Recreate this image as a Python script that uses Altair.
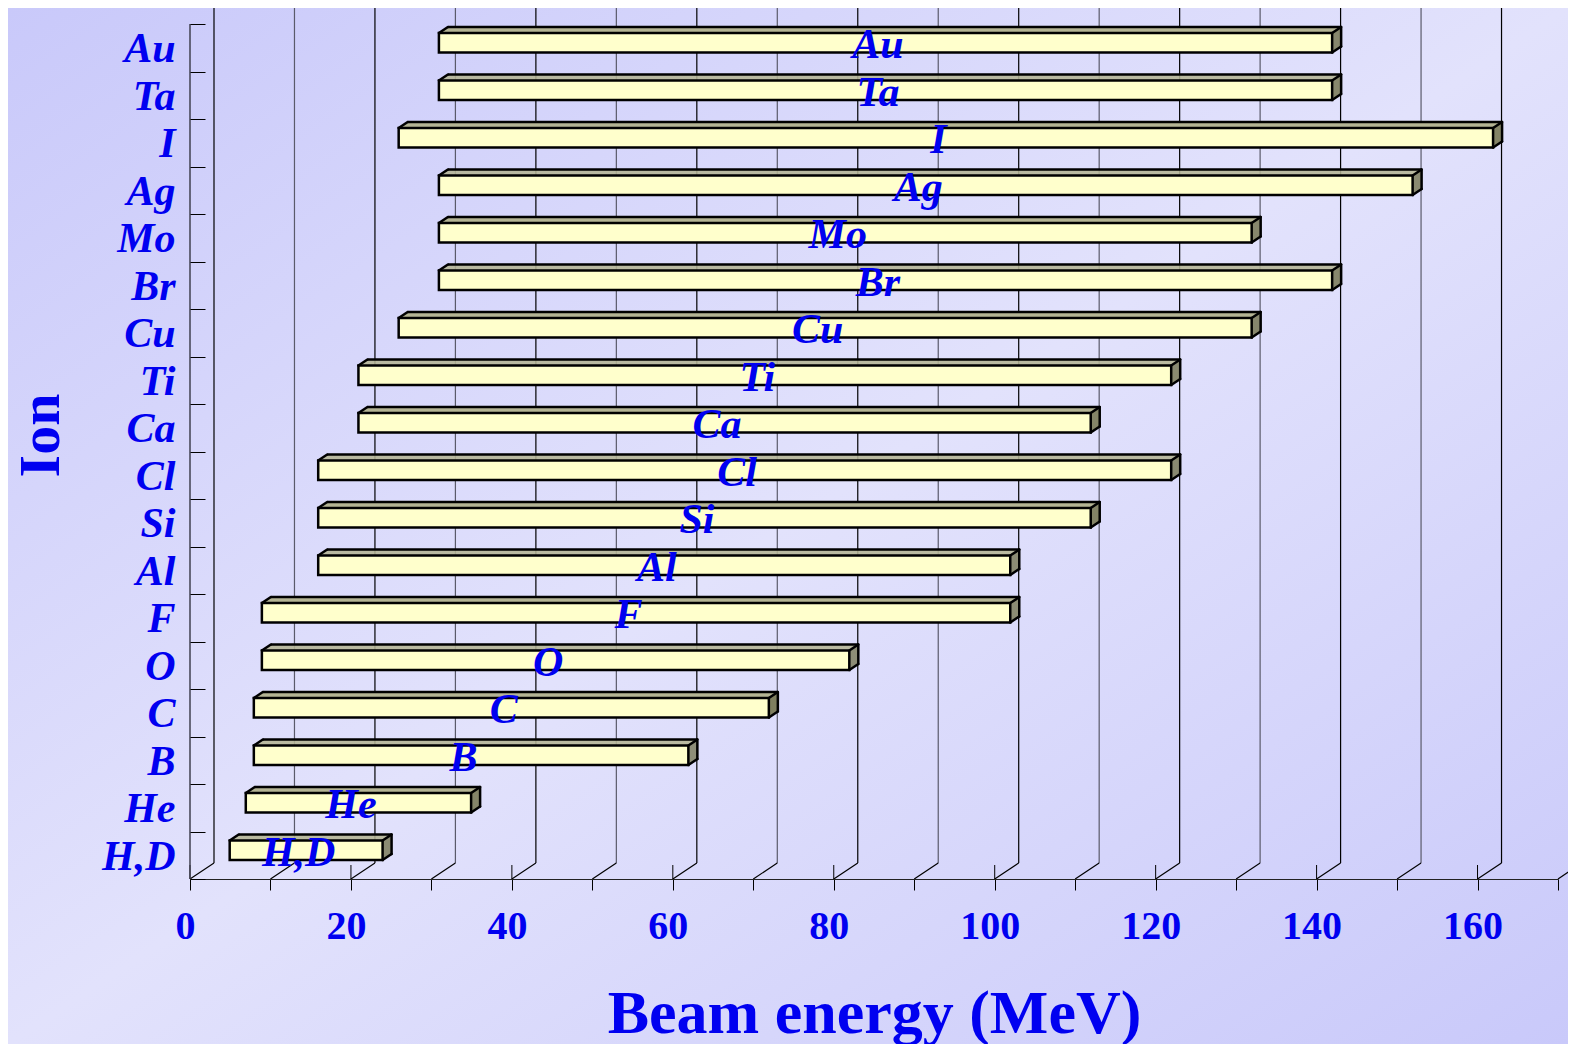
import altair as alt
import pandas as pd

# ---- data ----
ions = ["Au", "Ta", "I", "Ag", "Mo", "Br", "Cu", "Ti", "Ca", "Cl",
        "Si", "Al", "F", "O", "C", "B", "He", "H,D"]
e_min = [30, 30, 25, 30, 30, 30, 25, 20, 20, 15, 15, 15, 8, 8, 7, 7, 6, 4]
e_max = [141, 141, 161, 151, 131, 141, 131, 121, 111, 121, 111, 101, 101, 81, 71, 61, 34, 23]
grid_vals = list(range(0, 180, 10))

bars = pd.DataFrame({"ion": ions, "lo": e_min, "hi": e_max})
bars["mid"] = (bars["lo"] + bars["hi"]) / 2
grid = pd.DataFrame({"v": grid_vals})
grid["major"] = grid["v"] % 20 == 0

W, H = 1368, 855
BLUE = "#0000f0"
FONT = "Liberation Serif"

xs = alt.Scale(domain=[0, 170], nice=False, zero=False)
ys = alt.Scale(domain=ions, paddingInner=0, paddingOuter=0)

x_axis = alt.Axis(values=grid_vals, labelExpr="datum.value % 20 == 0 ? datum.label : ''",
                  tickSize=11, tickColor="black", domainColor="#222222", grid=False,
                  labelFont=FONT, labelFontWeight="bold", labelFontSize=40, labelColor=BLUE,
                  labelPadding=16, labelOffset=-5, labelFlush=False, zindex=1,
                  title="Beam energy (MeV)", titleFont=FONT, titleFontWeight="bold",
                  titleFontSize=62, titleColor=BLUE, titleX=684, titleY=153,
                  titleAlign="center", titleBaseline="alphabetic")
y_axis = alt.Axis(tickBand="extent", tickSize=15, offset=-15, domain=False, tickColor="black",
                  labelFont=FONT, labelFontWeight="bold", labelFontStyle="italic",
                  labelFontSize=42, labelColor=BLUE, labelPadding=15,
                  labelBaseline="alphabetic", labelOffset=14, zindex=1,
                  title="Ion", titleFont=FONT, titleFontWeight="bold", titleFontSize=58,
                  titleColor=BLUE, titleAngle=270, titleX=-147, titleY=411,
                  titleAlign="center", titleBaseline="alphabetic")

def xenc(field):
    return alt.X(f"{field}:Q", scale=xs, axis=x_axis)

def yenc():
    return alt.Y("ion:N", scale=ys, axis=y_axis)

layers = []

# background gradient
bg = alt.Chart(pd.DataFrame({"a": [0]})).mark_rect(
    fill=alt.Gradient(gradient="linear", x1=0, y1=0, x2=1, y2=1,
                      stops=[alt.GradientStop(color="#c9c9fa", offset=0),
                             alt.GradientStop(color="#e2e2fc", offset=0.5),
                             alt.GradientStop(color="#c9c9fa", offset=1)])
).encode(x=alt.value(-182), x2=alt.value(W + 10), y=alt.value(-16), y2=alt.value(H + 165))
layers.append(bg)

gcol = alt.condition("datum.major", alt.value("black"), alt.value("#5a5a6a"))
g = alt.Chart(grid)
# back wall gridlines
layers.append(g.transform_filter("datum.v < 170").mark_rule(xOffset=24, strokeWidth=1.2).encode(
    x=xenc("v"), y=alt.value(H - 16), y2=alt.value(-16), color=gcol))
# floor diagonals
layers.append(g.mark_rule(x2Offset=24, strokeWidth=1.2, color="black").encode(
    x=xenc("v"), x2="v:Q", y=alt.value(H), y2=alt.value(H - 16)))
# major tick upward part
layers.append(g.transform_filter("datum.major").mark_rule(color="black").encode(
    x=xenc("v"), y=alt.value(H - 14), y2=alt.value(H)))
# left front line
layers.append(alt.Chart(pd.DataFrame({"a": [0]})).mark_rule(color="#404050", strokeWidth=1.5).encode(
    x=alt.value(0), y=alt.value(0), y2=alt.value(H)))

b = alt.Chart(bars)
BH = 19.4
CY = -5
TOP = CY - BH / 2
BOT = CY + BH / 2
SW = 2.5

# top face slices
for k in range(6):
    off = 7.5 + 1.5 * (k + 0.5)
    layers.append(b.mark_bar(height=1.3, yOffset=TOP - (k + 0.5), xOffset=off, x2Offset=off,
                             color="#b4b494").encode(x=xenc("lo"), x2="hi:Q", y=yenc()))
# right face columns
for j in range(9):
    layers.append(b.mark_bar(height=BH, yOffset=CY - (j + 0.5) * 2 / 3, xOffset=7.5 + j,
                             x2Offset=7.5 + j + 1.2, color="#7f7f5f").encode(
        x=xenc("hi"), x2="hi:Q", y=yenc()))
# front face
layers.append(b.mark_bar(height=BH, yOffset=CY, xOffset=7.5, x2Offset=7.5, fill="#ffffcc",
                         stroke="black", strokeWidth=SW).encode(
    x=xenc("lo"), x2="hi:Q", y=yenc()))
# top back edge
layers.append(b.mark_bar(height=SW, yOffset=TOP - 6, xOffset=16.5, x2Offset=16.5, color="black").encode(
    x=xenc("lo"), x2="hi:Q", y=yenc()))

# diagonal / vertical edges
def edge(field, x0, x1, y0, y1):
    return b.mark_rule(color="black", strokeWidth=SW, xOffset=x0, x2Offset=x1,
                       yOffset=y0, y2Offset=y1, strokeCap="round").encode(
        x=xenc(field), x2=f"{field}:Q", y=yenc(), y2="ion:N")

layers.append(edge("lo", 7.5, 16.5, TOP, TOP - 6))
layers.append(edge("hi", 7.5, 16.5, TOP, TOP - 6))
layers.append(edge("hi", 7.5, 16.5, BOT, BOT - 6))
layers.append(edge("hi", 16.5, 16.5, TOP - 6, BOT - 6))

# bar labels
layers.append(b.mark_text(font=FONT, fontStyle="italic", fontWeight="bold", fontSize=42,
                          color=BLUE, baseline="alphabetic", align="center", dy=10.5).encode(
    x=xenc("mid"), y=yenc(), text="ion:N"))

chart = alt.layer(*layers).properties(
    width=W, height=H,
    autosize=alt.AutoSizeParams(type="none"),
    padding={"left": 182, "top": 16, "right": 10, "bottom": 165},
    background="#d8d8fb",
).configure_view(stroke=None)

chart.save("out.html", embed_options={"renderer": "svg", "actions": False})
